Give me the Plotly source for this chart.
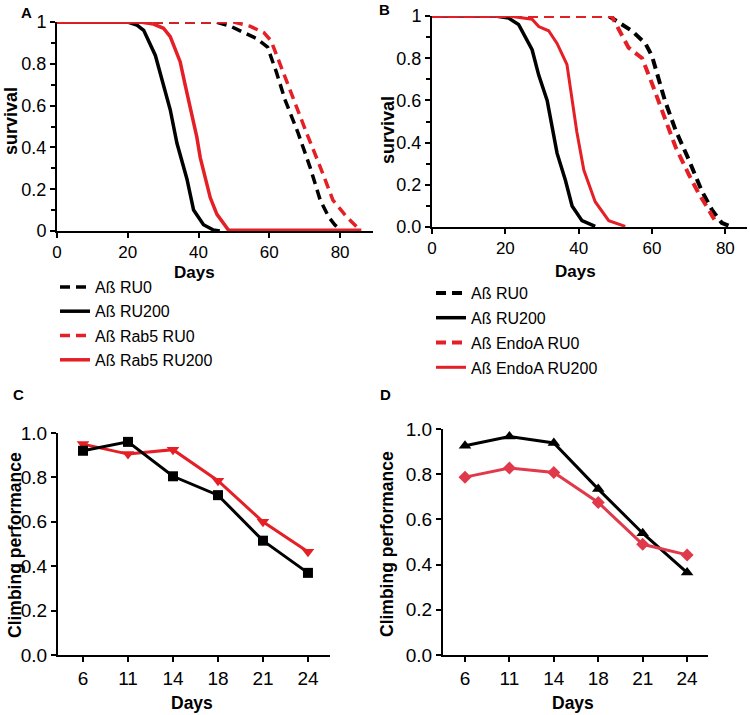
import plotly.graph_objects as go

W, H = 750, 715
FONT = "Arial, Liberation Sans, sans-serif"
RED = "#e41f26"
RED_D = "#e0394b"

# ---- Panel A: survival (days vs fraction) ----
a_ru0_days = [0, 45, 49, 53, 56.5, 59.5, 62, 64.5, 68.2, 71.5, 74.4, 76.8, 78.5, 80]
a_ru0_surv = [1, 1, 0.98, 0.95, 0.92, 0.88, 0.76, 0.625, 0.466, 0.306, 0.147, 0.067, 0.03, 0.005]
a_ru200_days = [0, 20, 22.6, 24.5, 27.8, 30.1, 32, 33.9, 35.3, 36.7, 38.6, 41.4, 44.2, 46]
a_ru200_surv = [1, 1, 0.985, 0.96, 0.84, 0.70, 0.58, 0.42, 0.34, 0.25, 0.10, 0.03, 0.005, 0]
a_rab5_ru0_days = [0, 50, 54.5, 58.4, 60.5, 63, 66.8, 70.6, 74.4, 78, 81.9, 85.6]
a_rab5_ru0_surv = [1, 1, 0.98, 0.95, 0.91, 0.8, 0.625, 0.466, 0.306, 0.147, 0.067, 0.005]
a_rab5_ru200_days = [0, 23.5, 27.3, 30.1, 32, 34.8, 36.2, 38.1, 39.5, 40.5, 41.9, 43.3, 45.2, 48.5, 86]
a_rab5_ru200_surv = [1, 1, 0.99, 0.97, 0.93, 0.81, 0.70, 0.56, 0.45, 0.35, 0.25, 0.16, 0.08, 0.003, 0.003]

# ---- Panel B ----
b_ru0_days = [0, 48.2, 51.8, 54.5, 58.2, 60, 63.5, 66.4, 70, 73.6, 76.4, 79, 81]
b_ru0_surv = [1, 1, 0.96, 0.93, 0.87, 0.81, 0.6, 0.46, 0.32, 0.17, 0.08, 0.02, 0.005]
b_ru200_days = [0, 17.3, 20.9, 23.6, 27.3, 29.1, 31.4, 32.7, 34.1, 36.4, 38.2, 40.9, 44.5]
b_ru200_surv = [1, 1, 0.99, 0.96, 0.84, 0.72, 0.6, 0.48, 0.35, 0.22, 0.1, 0.03, 0.003]
b_endoa_ru0_days = [0, 49, 53.6, 57.3, 60, 62.7, 66.4, 70, 72.7, 75.5, 77.5]
b_endoa_ru0_surv = [1, 1, 0.85, 0.8, 0.68, 0.55, 0.38, 0.25, 0.16, 0.08, 0.02]
b_endoa_ru200_days = [0, 20.9, 27.3, 29.1, 31.8, 34.1, 36.8, 38.2, 39.5, 41.4, 44.5, 48.2, 52.7]
b_endoa_ru200_surv = [1, 1, 0.985, 0.95, 0.93, 0.87, 0.77, 0.6, 0.45, 0.27, 0.12, 0.03, 0.003]

# ---- Panels C, D: climbing ----
climb_days = ["6", "11", "14", "18", "21", "24"]
c_black = [0.92, 0.96, 0.805, 0.72, 0.515, 0.37]
c_red = [0.95, 0.905, 0.925, 0.785, 0.60, 0.465]
d_black = [0.926, 0.967, 0.938, 0.734, 0.539, 0.365]
d_red = [0.787, 0.827, 0.808, 0.675, 0.49, 0.443]

surv_ticks = [0, 0.2, 0.4, 0.6, 0.8, 1]
a_surv_ticktext = ["0", "0.2", "0.4", "0.6", "0.8", "1"]
b_surv_ticktext = ["0.0", "0.2", "0.4", "0.6", "0.8", "1"]
climb_ticks = [0, 0.2, 0.4, 0.6, 0.8, 1.0]
climb_ticktext = ["0.0", "0.2", "0.4", "0.6", "0.8", "1.0"]


def px(x):
    return x / W


def py(y):
    return 1 - y / H


fig = go.Figure()
DASH = "10px,6px"


def surv_trace(x, y, name, color, dash, width, xa, ya, legend, group):
    return go.Scatter(x=x, y=y, mode="lines", name=name,
                      line=dict(color=color, width=width, dash=dash),
                      xaxis=xa, yaxis=ya, legend=legend, legendgroup=group,
                      cliponaxis=False, hoverinfo="skip")


fig.add_trace(surv_trace(a_ru0_days, a_ru0_surv, "Aß RU0", "black", DASH, 3.5, "x", "y", "legend", "a1"))
fig.add_trace(surv_trace(a_ru200_days, a_ru200_surv, "Aß RU200", "black", "solid", 3.5, "x", "y", "legend", "a2"))
fig.add_trace(surv_trace(a_rab5_ru0_days, a_rab5_ru0_surv, "Aß Rab5 RU0", RED, DASH, 3.5, "x", "y", "legend", "a3"))
fig.add_trace(surv_trace(a_rab5_ru200_days, a_rab5_ru200_surv, "Aß Rab5 RU200", RED, "solid", 3.5, "x", "y", "legend", "a4"))

fig.add_trace(surv_trace(b_ru0_days, b_ru0_surv, "Aß RU0", "black", DASH, 4, "x2", "y2", "legend2", "b1"))
fig.add_trace(surv_trace(b_ru200_days, b_ru200_surv, "Aß RU200", "black", "solid", 3.5, "x2", "y2", "legend2", "b2"))
fig.add_trace(surv_trace(b_endoa_ru0_days, b_endoa_ru0_surv, "Aß EndoA RU0", RED, DASH, 4, "x2", "y2", "legend2", "b3"))
fig.add_trace(surv_trace(b_endoa_ru200_days, b_endoa_ru200_surv, "Aß EndoA RU200", RED, "solid", 3, "x2", "y2", "legend2", "b4"))

idx = list(range(len(climb_days)))
fig.add_trace(go.Scatter(x=idx, y=c_red, mode="lines+markers", showlegend=False,
                         line=dict(color=RED, width=3),
                         marker=dict(symbol="triangle-down", size=11, color=RED),
                         xaxis="x3", yaxis="y3", cliponaxis=False))
fig.add_trace(go.Scatter(x=idx, y=c_black, mode="lines+markers", showlegend=False,
                         line=dict(color="black", width=3),
                         marker=dict(symbol="square", size=10, color="black"),
                         xaxis="x3", yaxis="y3", cliponaxis=False))
fig.add_trace(go.Scatter(x=idx, y=d_black, mode="lines+markers", showlegend=False,
                         line=dict(color="black", width=3),
                         marker=dict(symbol="triangle-up", size=11, color="black"),
                         xaxis="x4", yaxis="y4", cliponaxis=False))
fig.add_trace(go.Scatter(x=idx, y=d_red, mode="lines+markers", showlegend=False,
                         line=dict(color=RED_D, width=3),
                         marker=dict(symbol="diamond", size=10, color=RED_D),
                         xaxis="x4", yaxis="y4", cliponaxis=False))


def ax(size):
    return dict(showgrid=False, zeroline=False, showline=True, linecolor="black",
                linewidth=2, ticks="outside", tickcolor="black", tickwidth=2,
                ticklen=5, automargin=False,
                tickfont=dict(family=FONT, size=size, color="black"))


minor_y = dict(ticks="outside", dtick=0.1, ticklen=4, tickwidth=2, tickcolor="black")

layout = dict(
    width=W, height=H, margin=dict(l=0, r=0, t=0, b=0, pad=0, autoexpand=False),
    paper_bgcolor="white", plot_bgcolor="white",
    font=dict(family=FONT, color="black"),
    xaxis=dict(domain=[px(57), px(373)], range=[0, 89.3], tickvals=[0, 20, 40, 60, 80],
               anchor="y", **ax(17)),
    yaxis=dict(domain=[py(231), py(22)], range=[0, 1], tickvals=surv_ticks,
               ticktext=a_surv_ticktext, anchor="x", minor=minor_y, **ax(18)),
    xaxis2=dict(domain=[px(432), px(747)], range=[0, 85.9], tickvals=[0, 20, 40, 60, 80],
                anchor="y2", **ax(17)),
    yaxis2=dict(domain=[py(227), py(16)], range=[0, 1], tickvals=surv_ticks,
                ticktext=b_surv_ticktext, anchor="x2", minor=minor_y, **ax(18)),
    xaxis3=dict(domain=[px(58), px(330)], range=[-0.556, 5.49], tickvals=idx,
                ticktext=climb_days, anchor="y3", **ax(19)),
    yaxis3=dict(domain=[py(655), py(433)], range=[0, 1], tickvals=climb_ticks,
                ticktext=climb_ticktext, anchor="x3", **ax(19)),
    xaxis4=dict(domain=[px(443), px(708)], range=[-0.495, 5.47], tickvals=idx,
                ticktext=climb_days, anchor="y4", **ax(19)),
    yaxis4=dict(domain=[py(655), py(429)], range=[0, 1], tickvals=climb_ticks,
                ticktext=climb_ticktext, anchor="x4", **ax(19)),
    legend=dict(x=px(55), y=py(270), xanchor="left", yanchor="top",
                font=dict(family=FONT, size=16, color="black"),
                bgcolor="rgba(0,0,0,0)", tracegroupgap=0.5, itemwidth=30),
    legend2=dict(x=px(431), y=py(276), xanchor="left", yanchor="top",
                 font=dict(family=FONT, size=16, color="black"),
                 bgcolor="rgba(0,0,0,0)", tracegroupgap=1, itemwidth=30),
)
fig.update_layout(**layout)

annotations = [
    ("A", 26, 12, 15, 0),
    ("B", 384, 10, 15, 0),
    ("C", 18, 394, 15, 0),
    ("D", 385, 394, 15, 0),
    ("Days", 194, 272, 17, 0),
    ("Days", 575, 271, 17, 0),
    ("Days", 192, 703, 17.5, 0),
    ("Days", 573, 703, 17.5, 0),
    ("survival", 11, 121, 18, -90),
    ("survival", 388, 130, 18, -90),
    ("Climbing performance", 15, 545, 17.5, -90),
    ("Climbing performance", 387, 544, 17.5, -90),
]
for text, x, y, size, ang in annotations:
    fig.add_annotation(x=px(x), y=py(y), xref="paper", yref="paper", text="<b>%s</b>" % text,
                       showarrow=False, textangle=ang, xanchor="center", yanchor="middle",
                       font=dict(family=FONT, size=size, color="black"))

fig.write_html("out.html", config={"displayModeBar": False},
               post_script="document.body.style.margin='0';document.body.style.padding='0';")
